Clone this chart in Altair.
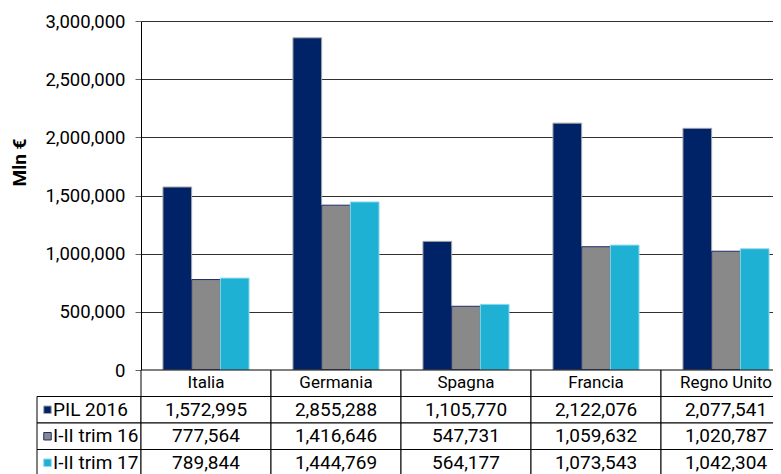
import altair as alt
import pandas as pd

countries = ["Italia", "Germania", "Spagna", "Francia", "Regno Unito"]
series = ["PIL 2016", "I-II trim 16", "I-II trim 17"]
pil_2016 = [1572995, 2855288, 1105770, 2122076, 2077541]
trim_16 = [777564, 1416646, 547731, 1059632, 1020787]
trim_17 = [789844, 1444769, 564177, 1073543, 1042304]
y_ticks = [0, 500000, 1000000, 1500000, 2000000, 2500000, 3000000]

fills = ["#002266", "#898989", "#1fb1d3"]
strokes = ["#a6a6a6", "#1f2d6b", "#8fd9ee"]

FONT = "Roboto"
FS = 19
PLOT_W = 650
PLOT_H = 349
LEG_W = 104
TABLE_H = 106

rows = []
for s, vals in zip(series, [pil_2016, trim_16, trim_17]):
    for c, v in zip(countries, vals):
        rows.append({"country": c, "series": s, "value": v, "label": f"{v:,}"})
df = pd.DataFrame(rows)

row_domain = ["hdr"] + series
hdr = pd.DataFrame({"country": countries, "series": ["hdr"] * len(countries), "label": countries})
body = df[["country", "series", "label"]]

color_scale = alt.Scale(domain=series, range=fills)
stroke_scale = alt.Scale(domain=series, range=strokes)
x_scale = alt.Scale(domain=countries, paddingInner=0, paddingOuter=0)
row_scale = alt.Scale(domain=row_domain, paddingInner=0, paddingOuter=0)

# placeholder top-left cell
blank = alt.Chart(pd.DataFrame({"t": [""]})).mark_text().encode(
    text="t:N"
).properties(width=LEG_W, height=PLOT_H)

bars = alt.Chart(df).mark_bar(strokeWidth=1).encode(
    x=alt.X("country:N", sort=countries, scale=x_scale,
            axis=alt.Axis(labels=False, ticks=False, domain=True, domainColor="black",
                          title=None, grid=False)),
    xOffset=alt.XOffset("series:N", sort=series,
                        scale=alt.Scale(domain=series, paddingInner=0, paddingOuter=0.765)),
    y=alt.Y("value:Q", scale=alt.Scale(domain=[0, 3000000], nice=False),
            axis=alt.Axis(values=y_ticks, labelExpr="format(datum.value, ',.0f')",
                          title="Mln €", grid=True,
                          gridColor="#303030", gridWidth=1, tickColor="#666666", tickSize=6,
                          domainColor="black", labelFont=FONT, labelFontSize=18.5,
                          labelColor="black", labelPadding=10, titleFont=FONT,
                          titleFontSize=FS, titleFontWeight="bold", titleColor="black",
                          titlePadding=15, titleY=141)),
    color=alt.Color("series:N", scale=color_scale, legend=None),
    stroke=alt.Stroke("series:N", scale=stroke_scale, legend=None),
).properties(width=PLOT_W, height=PLOT_H)

# legend column of the data table
leg_df = pd.DataFrame({"col": ["legend"] * len(series), "series": series, "label": series})
leg_x = alt.Scale(domain=["legend"], paddingInner=0, paddingOuter=0)
leg_cells = alt.Chart(leg_df).mark_rect(fill="white", stroke="black", strokeWidth=1).encode(
    x=alt.X("col:N", scale=leg_x, axis=None),
    y=alt.Y("series:N", scale=row_scale, axis=None),
)
leg_swatch = alt.Chart(leg_df).mark_square(size=56, opacity=1, filled=True, strokeWidth=1,
                                           xOffset=10.5).encode(
    x=alt.X("col:N", scale=leg_x, axis=None, bandPosition=0),
    y=alt.Y("series:N", scale=row_scale, axis=None),
    color=alt.Color("series:N", scale=color_scale, legend=None),
    stroke=alt.Stroke("series:N", scale=stroke_scale, legend=None),
)
leg_text = alt.Chart(leg_df).mark_text(align="left", baseline="middle", dx=16, font=FONT,
                                       fontSize=FS, color="black").encode(
    x=alt.X("col:N", scale=leg_x, axis=None, bandPosition=0),
    y=alt.Y("series:N", scale=row_scale, axis=None),
    text="label:N",
)
legend_col = alt.layer(leg_cells, leg_swatch, leg_text).properties(width=LEG_W, height=TABLE_H)

# data table
t_cells = alt.Chart(pd.concat([hdr, body], ignore_index=True)).mark_rect(
    fill="white", stroke="black", strokeWidth=1).encode(
    x=alt.X("country:N", scale=x_scale, axis=None),
    y=alt.Y("series:N", scale=row_scale, axis=None),
)
t_head = alt.Chart(hdr).mark_text(baseline="middle", font=FONT, fontSize=17,
                                  color="black").encode(
    x=alt.X("country:N", scale=x_scale, axis=None),
    y=alt.Y("series:N", scale=row_scale, axis=None),
    text="label:N",
)
t_text = alt.Chart(body).mark_text(baseline="middle", font=FONT, fontSize=FS,
                                   color="black").encode(
    x=alt.X("country:N", scale=x_scale, axis=None),
    y=alt.Y("series:N", scale=row_scale, axis=None),
    text="label:N",
)
table = alt.layer(t_cells, t_head, t_text).properties(width=PLOT_W, height=TABLE_H)

chart = alt.concat(
    blank, bars, legend_col, table, columns=2, spacing=0, bounds="flush"
).properties(
    padding={"left": 2, "top": 4, "right": -19, "bottom": 0}
).configure_view(stroke=None).resolve_scale(x="independent", y="independent")

chart.save("out.html", embed_options={"renderer": "svg", "actions": False})
